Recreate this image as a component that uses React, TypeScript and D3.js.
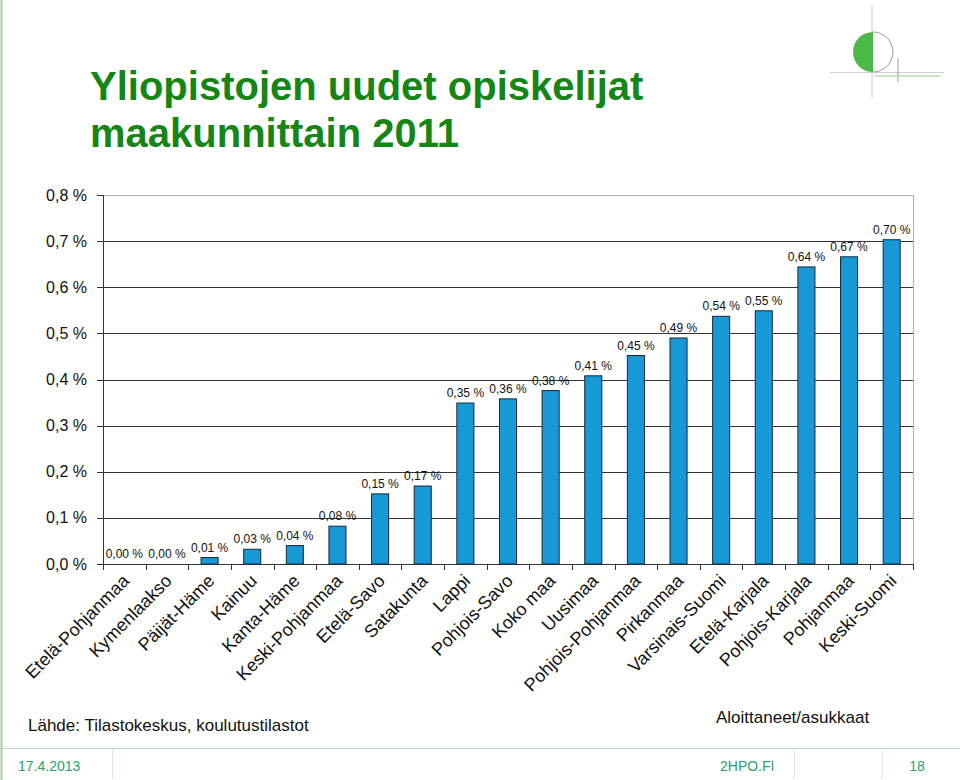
import React from "react";
import * as d3 from "d3";

const categories = [
  "Etelä-Pohjanmaa", "Kymenlaakso", "Päijät-Häme", "Kainuu", "Kanta-Häme",
  "Keski-Pohjanmaa", "Etelä-Savo", "Satakunta", "Lappi", "Pohjois-Savo",
  "Koko maa", "Uusimaa", "Pohjois-Pohjanmaa", "Pirkanmaa", "Varsinais-Suomi",
  "Etelä-Karjala", "Pohjois-Karjala", "Pohjanmaa", "Keski-Suomi",
];
const values = [
  0.0, 0.0, 0.014, 0.032, 0.04, 0.082, 0.152, 0.169, 0.349, 0.358,
  0.376, 0.408, 0.452, 0.49, 0.537, 0.549, 0.644, 0.666, 0.703,
];
const yTicks = [0, 0.1, 0.2, 0.3, 0.4, 0.5, 0.6, 0.7, 0.8];
const titleLines = ["Yliopistojen uudet opiskelijat", "maakunnittain 2011"];

const W = 960;
const H = 780;
const PL = 103;
const PR = 913;
const PT = 195;
const PB = 564;

const fmtPct = (v: number, d: number) => v.toFixed(d).replace(".", ",") + " %";

export default function App() {
  const x = d3.scaleBand<string>().domain(categories).range([PL, PR]).paddingInner(0.6).paddingOuter(0.3);
  const y = d3.scaleLinear().domain([0, 0.8]).range([PB, PT]);
  const step = (PR - PL) / categories.length;
  const bounds = d3.range(categories.length + 1).map((i) => PL + i * step);
  const green = "#158515";
  const footGreen = "#2a9f6c";
  const font = "'Liberation Sans', Arial, sans-serif";

  return (
    <svg width={W} height={H} style={{ position: "absolute", left: 0, top: 0, background: "#fff" }} fontFamily={font}>
      <rect x={0} y={0} width={W} height={H} fill="#fff" />
      {/* left border */}
      <line x1={1.5} x2={1.5} y1={0} y2={H} stroke="#a9cf9a" strokeWidth={2} />

      {/* logo */}
      <g>
        <line x1={872} x2={872} y1={5} y2={98} stroke="#c8c8c8" strokeWidth={1} />
        <line x1={830} x2={944} y1={72.5} y2={72.5} stroke="#d0d0d0" strokeWidth={1} />
        <path d="M873,32 A20,20 0 0 0 873,72 Z" fill="#4cb848" />
        <path d="M873,32 A20,20 0 0 1 873,72" fill="none" stroke="#9a9a9a" strokeWidth={1} />
        <line x1={898} x2={898} y1={58} y2={82} stroke="#9a9a9a" strokeWidth={1} />
        <line x1={875} x2={940} y1={76} y2={76} stroke="#b9dcb0" strokeWidth={1.5} />
      </g>

      {/* title */}
      {titleLines.map((t, i) => (
        <text key={t} x={90} y={100 + i * 47} fontSize={40} fontWeight="bold" fill={green}>{t}</text>
      ))}

      {/* plot border */}
      <line x1={PL} x2={PR} y1={PT + 0.5} y2={PT + 0.5} stroke="#b0b0b0" />
      <line x1={PR + 0.5} x2={PR + 0.5} y1={PT} y2={PB} stroke="#b0b0b0" />

      {/* gridlines & y ticks */}
      {yTicks.map((t) => (
        <g key={t}>
          {t > 0 && t < 0.8 && (
            <line x1={PL} x2={PR} y1={Math.round(y(t)) + 0.5} y2={Math.round(y(t)) + 0.5} stroke="#333" />
          )}
          <line x1={97} x2={PL} y1={Math.round(y(t)) + 0.5} y2={Math.round(y(t)) + 0.5} stroke="#333" />
          <text x={87} y={y(t)} dy="0.35em" textAnchor="end" fontSize={16} fill="#111">
            {fmtPct(t, 1)}
          </text>
        </g>
      ))}

      {/* bars */}
      {categories.map((c, i) => {
        const v = values[i];
        const bx = (x(c) as number);
        const bw = x.bandwidth();
        const top = y(v);
        return (
          <g key={c}>
            {v > 0 && (
              <rect x={bx} y={top} width={bw} height={PB - top} fill="#1898d5" stroke="#15283a" strokeWidth={1} />
            )}
            <text x={bx + bw / 2} y={top - 6} textAnchor="middle" fontSize={12} fill="#111">
              {fmtPct(v, 2)}
            </text>
          </g>
        );
      })}

      {/* axes */}
      <line x1={PL + 0.5} x2={PL + 0.5} y1={PT} y2={PB + 6} stroke="#333" />
      <line x1={PL} x2={PR + 1} y1={PB + 0.5} y2={PB + 0.5} stroke="#333" />
      {bounds.map((b, i) => (
        <line key={i} x1={Math.round(b) + 0.5} x2={Math.round(b) + 0.5} y1={PB} y2={PB + 6} stroke="#333" />
      ))}

      {/* x labels */}
      {categories.map((c) => {
        const cx = (x(c) as number) + x.bandwidth() / 2 + 6;
        const cy = 582;
        return (
          <text key={c} x={cx} y={cy} textAnchor="end" fontSize={18} fill="#111" transform={`rotate(-45 ${cx} ${cy})`}>
            {c}
          </text>
        );
      })}

      {/* notes */}
      <text x={28} y={731} fontSize={17} fill="#111">Lähde: Tilastokeskus, koulutustilastot</text>
      <text x={716} y={723} fontSize={17} fill="#111">Aloittaneet/asukkaat</text>

      {/* footer */}
      <line x1={0} x2={W} y1={748.5} y2={748.5} stroke="#b5dcc3" />
      {[112, 794, 882].map((fx) => (
        <line key={fx} x1={fx + 0.5} x2={fx + 0.5} y1={750} y2={778} stroke="#d5e8dc" />
      ))}
      <text x={18} y={771} fontSize={14} fill={footGreen}>17.4.2013</text>
      <text x={720} y={771} fontSize={14} fill={footGreen}>2HPO.FI</text>
      <text x={917} y={771} fontSize={14} textAnchor="middle" fill={footGreen}>18</text>
    </svg>
  );
}
